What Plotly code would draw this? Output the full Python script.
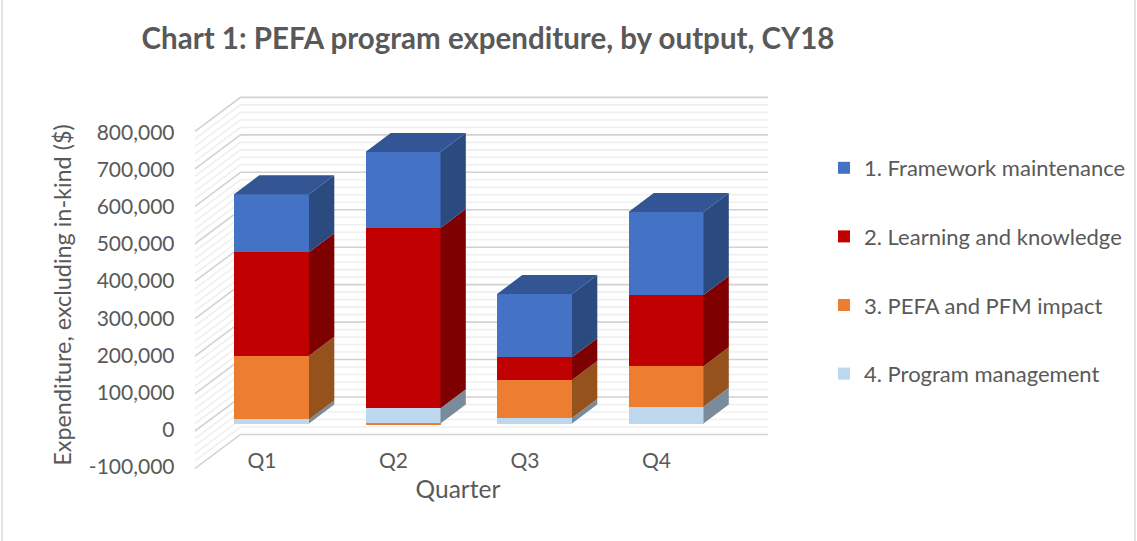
import plotly.graph_objects as go

# ---- data ----
quarters = ["Q1", "Q2", "Q3", "Q4"]
positions = [1, 2, 3, 4]
program_management = [11000, 41000, 15000, 45000]
pefa_pfm_impact = [170000, -2000, 101000, 108000]
learning_knowledge = [276000, 481000, 61000, 190000]
framework_maintenance = [155000, 203000, 169000, 222000]
axis_values = [-100000, 0, 100000, 200000, 300000, 400000, 500000, 600000, 700000, 800000]
axis_labels = ["-100,000", "0", "100,000", "200,000", "300,000", "400,000", "500,000", "600,000", "700,000", "800,000"]
grid_step = 20000

series = [
    ("4. Program management", program_management, "#BDD7EE", "#7A8C9C", 4),
    ("3. PEFA and PFM impact", pefa_pfm_impact, "#ED7D31", "#95521D", 3),
    ("2. Learning and knowledge", learning_knowledge, "#C00000", "#7E0000", 2),
    ("1. Framework maintenance", framework_maintenance, "#4472C4", "#2A4A80", 1),
]
top_colour = "#335593"

# ---- layout geometry ----
W, H = 1137, 541
L, R, T, B = 140, 776, 85, 505   # axes area
PAPER_R = W                      # plot area reaches the right edge, so the legend fits in it
CAT = 131.5          # px per quarter
SCALE = 0.0003745    # px per dollar, plot planes
LABEL_SCALE = 0.000371
TXT = "#595959"
FONT = "Lato"
dom = [0, (R - L) / (PAPER_R - L)]


def px_x(p):
    return (p - L) / (PAPER_R - L)


def xrange_for(px_of_one):
    return [1 + (L - px_of_one) / CAT, 1 + (R - px_of_one) / CAT]


def yrange_for(px_of_zero, scale):
    return [(px_of_zero - B) / scale, (px_of_zero - T) / scale]


fig = go.Figure()

# label plane: only carries tick labels
fig.add_trace(go.Scatter(x=positions, y=[0] * 4, mode="lines", line=dict(width=0),
                         showlegend=False, hoverinfo="skip", xaxis="x", yaxis="y"))

# wall plane (front-left edge of the walls)
wall_px1, wall_px0 = 262, 431
front = 1 + (195 - wall_px1) / CAT
back = 1 + (240.5 - wall_px1) / CAT
right = 1 + (768 - wall_px1) / CAT
rise = 34 / SCALE


def grid_trace(values, colour, width):
    xs, ys = [], []
    for v in values:
        xs += [front, back, right, None]
        ys += [v, v + rise, v + rise, None]
    return go.Scatter(x=xs, y=ys, mode="lines", line=dict(color=colour, width=width),
                      showlegend=False, hoverinfo="skip", xaxis="x2", yaxis="y2")


low, high = axis_values[0], axis_values[-1]
all_lines = list(range(low, high + 1, grid_step))
fig.add_trace(grid_trace([v for v in all_lines if v % 100000], "#EFEFEF", 1.6))
fig.add_trace(grid_trace([v for v in all_lines if not v % 100000], "#D2D2D2", 1.6))

# bar plane
bar_px1, bar_px0 = 271.5, 423.5
bar_width = 75 / CAT
depth_x = 25.3 / CAT
depth_y = 19 / SCALE
half = bar_width / 2

pos_stack = [0] * 4
neg_stack = [0] * 4
tops = [0] * 4
for name, vals, colour, side, rank in series:
    fig.add_trace(go.Bar(x=positions, y=vals, width=bar_width, name=name, legendgroup=name,
                         legendrank=rank,
                         marker=dict(color=colour, line=dict(width=0)), xaxis="x3", yaxis="y3"))
    xs, ys = [], []
    for i, v in enumerate(vals):
        if v >= 0:
            y0, y1 = pos_stack[i], pos_stack[i] + v
            pos_stack[i] = y1
        else:
            y0, y1 = neg_stack[i] + v, neg_stack[i]
            neg_stack[i] = y0
        xr = positions[i] + half
        xs += [xr, xr + depth_x, xr + depth_x, xr, xr, None]
        ys += [y0, y0 + depth_y, y1 + depth_y, y1, y0, None]
        tops[i] = pos_stack[i]
    fig.add_trace(go.Scatter(x=xs, y=ys, mode="lines", fill="toself", fillcolor=side,
                             line=dict(width=0, color=side), showlegend=False,
                             hoverinfo="skip", xaxis="x3", yaxis="y3"))

xs, ys = [], []
for i, t in enumerate(tops):
    xl, xr = positions[i] - half, positions[i] + half
    xs += [xl, xr, xr + depth_x, xl + depth_x, xl, None]
    ys += [t, t, t + depth_y, t + depth_y, t, None]
fig.add_trace(go.Scatter(x=xs, y=ys, mode="lines", fill="toself", fillcolor=top_colour,
                         line=dict(width=0, color=top_colour), showlegend=False,
                         hoverinfo="skip", xaxis="x3", yaxis="y3"))

hidden = dict(visible=False, fixedrange=True, domain=dom)
fig.update_layout(
    width=W, height=H, autosize=False,
    margin=dict(l=L, r=W - PAPER_R, t=T, b=H - B, pad=0),
    paper_bgcolor="white", plot_bgcolor="rgba(0,0,0,0)",
    barmode="relative", bargap=0,
    font=dict(family=FONT, color=TXT, size=21),
    title=dict(text="<b>Chart 1: PEFA program expenditure, by output, CY18</b>",
               x=488 / W, xanchor="center",
               y=1 - 39 / H, yanchor="middle", yref="container",
               font=dict(family=FONT, size=29.5, color=TXT)),
    xaxis=dict(range=xrange_for(wall_px1), tickvals=positions, ticktext=quarters, domain=dom,
               anchor="free", position=(B - 446) / (B - T), showgrid=False, zeroline=False,
               showline=False, ticks="", tickfont=dict(size=21),
               title=dict(text="Quarter", standoff=9, font=dict(size=24.5))),
    yaxis=dict(range=yrange_for(429.5, LABEL_SCALE), tickvals=axis_values, ticktext=axis_labels,
               anchor="free", position=px_x(174.5), showgrid=False, zeroline=False,
               showline=False, ticks="", tickfont=dict(size=21),
               title=dict(text="Expenditure, excluding in-kind ($)", standoff=9, font=dict(size=23.4))),
    xaxis2=dict(range=xrange_for(wall_px1), overlaying="x", **hidden),
    yaxis2=dict(range=yrange_for(wall_px0, SCALE), overlaying="y", visible=False, fixedrange=True),
    xaxis3=dict(range=xrange_for(bar_px1), overlaying="x", **hidden),
    yaxis3=dict(range=yrange_for(bar_px0, SCALE), overlaying="y", visible=False, fixedrange=True),
    legend=dict(x=px_x(824), xanchor="left", y=(B - 147) / (B - T), yanchor="top",
                traceorder="grouped", tracegroupgap=37, font=dict(size=22),
                itemwidth=30, bgcolor="rgba(0,0,0,0)"),
    shapes=[dict(type="rect", xref="paper", yref="paper",
                 x0=px_x(2), x1=px_x(1135),
                 y0=-0.2, y1=(B + 5) / (B - T),
                 line=dict(color="#D9D9D9", width=1.5), layer="below")],
)

fig.write_html("out.html", config=dict(displayModeBar=False),
               post_script="document.body.style.margin='0';")
